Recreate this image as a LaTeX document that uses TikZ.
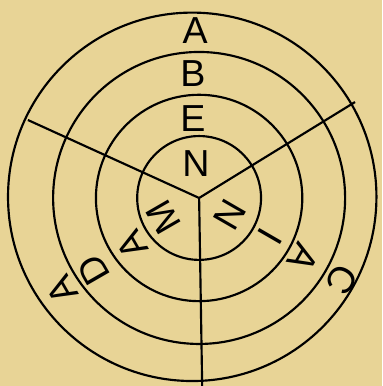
\documentclass[tikz,border=0pt]{standalone}
\usepackage{fontspec}
\setmainfont{Liberation Sans}
\definecolor{parchment}{RGB}{232,212,150}

\begin{document}
\begin{tikzpicture}[line width=1.6pt, line join=round,
    letter/.style={font=\fontsize{28}{32}\selectfont, inner sep=0pt}]
    % Paper
    \fill[parchment] (-5.21, -4.92) rectangle (4.79, 5.18);
    \useasboundingbox (-5.21, -4.92) rectangle (4.79, 5.18);

    % Rings
    \draw (0, 0) circle (1.62);
    \draw (0, 0) circle (2.70);
    \draw (0, 0) circle (3.82);
    \draw (-0.18, 0.03) circle (4.82);

    % Spokes
    \coordinate (hub) at (0, 0);
    \coordinate (spokeL) at (-4.48, 2.04);
    \coordinate (spokeR) at (4.08, 2.51);
    \coordinate (spokeD) at (0.08, -4.92);
    \draw (spokeL) -- (hub) -- (spokeR);
    \draw (hub) -- (spokeD);

    % Upper column
    \node[letter] (upA) at (-0.10, 4.38) {A};
    \node[letter] (upB) at (-0.16, 3.25) {B};
    \node[letter] (upE) at (-0.16, 2.08) {E};
    \node[letter] (upN) at (-0.08, 0.89) {N};

    % Lower right column
    \node[letter, rotate=-120] (rtN) at (0.81, -0.45) {N};
    \node[letter, rotate=-120] (rtI) at (1.86, -1.02) {I};
    \node[letter, rotate=-120] (rtA) at (2.72, -1.57) {A};
    \node[letter, rotate=-120] (rtC) at (3.74, -2.15) {C};

    % Lower left column
    \node[letter, rotate=120] (lfM) at (-0.94, -0.50) {M};
    \node[letter, rotate=120] (lfA) at (-1.75, -1.23) {A};
    \node[letter, rotate=120] (lfD) at (-2.77, -1.88) {D};
    \node[letter, rotate=120] (lfAo) at (-3.59, -2.41) {A};
\end{tikzpicture}
\end{document}
